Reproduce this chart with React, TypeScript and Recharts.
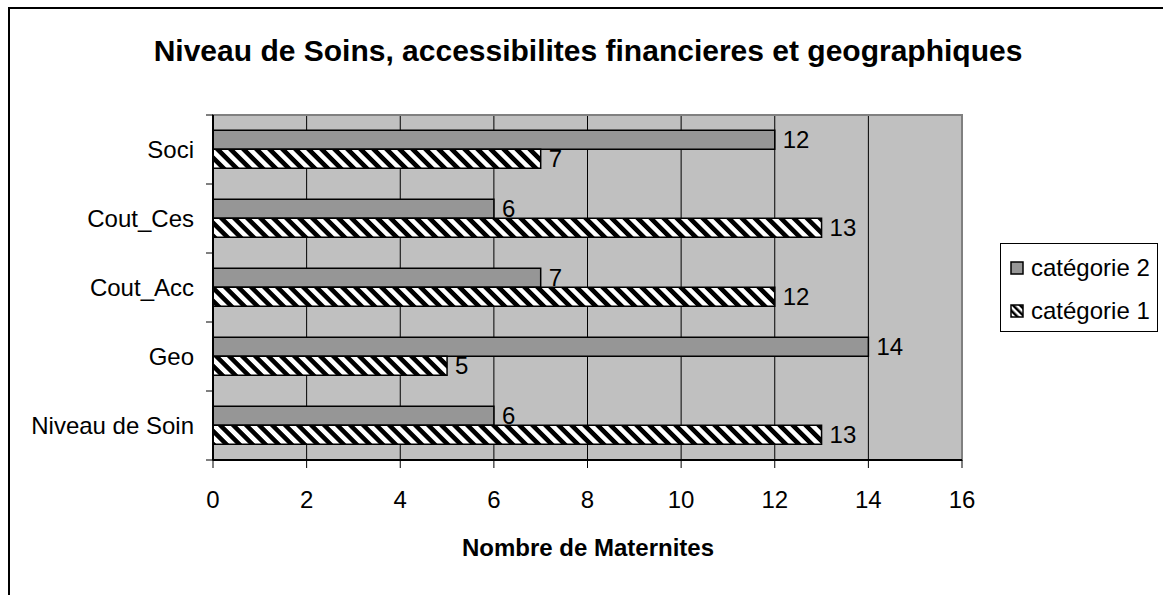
import React from 'react';
import { BarChart, Bar, XAxis, YAxis, CartesianGrid, Legend, LabelList, ReferenceArea } from 'recharts';

// Valeurs (de haut en bas)
const CATEGORIES = ['Soci', 'Cout_Ces', 'Cout_Acc', 'Geo', 'Niveau de Soin'];
const CAT2 = [12, 6, 7, 14, 6];
const CAT1 = [7, 13, 12, 5, 13];
const X_TICKS = [0, 2, 4, 6, 8, 10, 12, 14, 16];
const LEGEND_ORDER = ['cat2', 'cat1'];

const TITLE = 'Niveau de Soins, accessibilites financieres et geographiques';
const X_LABEL = 'Nombre de Maternites';

const FONT = '"Liberation Sans", Arial, sans-serif';
const W = 1163;
const H = 595;
const PLOT_TOP = 115;
const PLOT_BOTTOM = 460;
const AXIS_X = 213;
const BAND = (PLOT_BOTTOM - PLOT_TOP) / CATEGORIES.length;

const data = CATEGORIES.map((name, i) => ({ name, cat2: CAT2[i], cat1: CAT1[i] }));

function CatTick(props: any) {
  const { x, y, payload, index } = props;
  const half = BAND / 2;
  return (
    <g>
      <line x1={AXIS_X - 7} x2={AXIS_X} y1={y - half} y2={y - half} stroke="#000" strokeWidth={1} />
      {index === CATEGORIES.length - 1 && (
        <line x1={AXIS_X - 7} x2={AXIS_X} y1={y + half} y2={y + half} stroke="#000" strokeWidth={1} />
      )}
      <text x={x} y={y} dy="0.35em" textAnchor="end" fontSize={24} fill="#000">
        {payload.value}
      </text>
    </g>
  );
}

function LegendBox(props: any) {
  // l'ordre Excel : catégorie 2 en haut
  const items = [...(props.payload ?? [])].sort(
    (a: any, b: any) => LEGEND_ORDER.indexOf(a.dataKey) - LEGEND_ORDER.indexOf(b.dataKey)
  );
  return (
    <div style={{ width: 158, height: 89, boxSizing: 'border-box', border: '1px solid #000', background: '#fff', padding: '2px 0 0 9px', fontFamily: FONT }}>
      {items.map((it: any) => (
        <div key={it.value} style={{ display: 'flex', alignItems: 'center', height: 43 }}>
          <svg width={14} height={14} style={{ marginRight: 7 }}>
            <defs>
              <pattern id={`lg-${it.dataKey}`} patternUnits="userSpaceOnUse" width="5" height="5" patternTransform="rotate(-45)">
                <rect width="5" height="5" fill="#fff" />
                <rect width="2.5" height="5" fill="#000" />
              </pattern>
            </defs>
            <rect x={1} y={1} width={12} height={12} fill={it.dataKey === 'cat1' ? `url(#lg-${it.dataKey})` : '#969696'} stroke="#000" strokeWidth={1.5} />
          </svg>
          <span style={{ fontSize: 24, color: '#000', lineHeight: 1 }}>{it.value}</span>
        </div>
      ))}
    </div>
  );
}

export default function App() {
  return (
    <div style={{ position: 'absolute', left: 0, top: 0, width: W, height: H, overflow: 'hidden', background: '#fff', fontFamily: FONT }}>
      <div style={{ position: 'absolute', left: 8, top: 7, width: W - 8, height: H - 7, borderLeft: '2px solid #000', borderTop: '2px solid #000', boxSizing: 'border-box' }} />
      <div style={{ position: 'absolute', left: 88, width: 1000, top: 36, textAlign: 'center', fontSize: 30, fontWeight: 'bold', lineHeight: '30px', color: '#000' }}>
        {TITLE}
      </div>
      <div style={{ position: 'absolute', left: 88, width: 1000, top: 536, textAlign: 'center', fontSize: 24, fontWeight: 'bold', lineHeight: '24px', color: '#000' }}>
        {X_LABEL}
      </div>
      <div style={{ position: 'absolute', left: 0, top: 0 }}>
        <BarChart
          layout="vertical"
          width={W}
          height={H}
          data={data}
          margin={{ top: PLOT_TOP, right: W - 962, bottom: H - PLOT_BOTTOM - 60, left: AXIS_X - 200 }}
          barCategoryGap="22%"
          barGap={0}
        >
          <defs>
            <pattern id="hatch" patternUnits="userSpaceOnUse" width="9.2" height="9.2" patternTransform="rotate(-45)">
              <rect width="9.2" height="9.2" fill="#fff" />
              <rect width="4.6" height="9.2" fill="#000" />
            </pattern>
          </defs>
          <CartesianGrid horizontal={false} stroke="#000" strokeWidth={1} fill="#c0c0c0" fillOpacity={1} />
          <ReferenceArea x1={0} x2={16} fill="none" stroke="#808080" strokeWidth={2} ifOverflow="visible" />
          <XAxis
            type="number"
            domain={[0, 16]}
            ticks={X_TICKS}
            interval={0}
            height={60}
            tickSize={8}
            tickMargin={23}
            stroke="#000"
            axisLine={{ stroke: '#000', strokeWidth: 2 }}
            tickLine={{ stroke: '#000' }}
            tick={{ fontSize: 24, fill: '#000' }}
          />
          <YAxis
            type="category"
            dataKey="name"
            width={200}
            tickLine={false}
            tickSize={0}
            tickMargin={19}
            interval={0}
            axisLine={{ stroke: '#000', strokeWidth: 2 }}
            tick={<CatTick />}
          />
          <Bar dataKey="cat2" name="catégorie 2" fill="#969696" stroke="#000" strokeWidth={1.5} isAnimationActive={false}>
            <LabelList dataKey="cat2" position="right" offset={8} fontSize={24} fill="#000" />
          </Bar>
          <Bar dataKey="cat1" name="catégorie 1" fill="url(#hatch)" stroke="#000" strokeWidth={1.5} isAnimationActive={false}>
            <LabelList dataKey="cat1" position="right" offset={8} fontSize={24} fill="#000" />
          </Bar>
          <Legend
            layout="vertical"
            align="center"
            verticalAlign="middle"
            content={<LegendBox />}
            wrapperStyle={{ left: 1000, top: 243, width: 158, height: 89 }}
          />
        </BarChart>
      </div>
    </div>
  );
}
